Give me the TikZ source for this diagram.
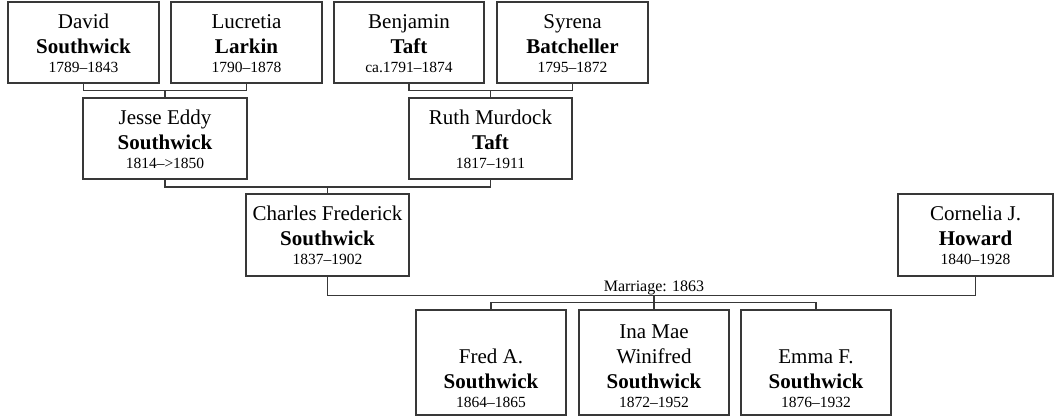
\documentclass[tikz,border=0pt]{standalone}
\usepackage{fontspec}
\setmainfont{Liberation Serif}
\newcommand\yrs[1]{\\[-6pt]{\fontsize{15.5}{19}\selectfont #1}}
\begin{document}
\begin{tikzpicture}[x=1pt,y=-1pt,
  person/.style={draw=black!78, line width=1.5pt, align=center, inner sep=0pt,
    font=\fontsize{21}{25}\selectfont, minimum height=81pt,
    text height=60.5pt, text depth=0pt},
  kid/.style={person, minimum width=150pt, minimum height=105pt,
    text height=89pt},
  link/.style={draw=black!78, line width=1.5pt},
  marrlabel/.style={font=\fontsize{16}{19}\selectfont, anchor=base, inner sep=0pt}]
\useasboundingbox (0,0) rectangle (1064,416);
% generation 1
\node[person, minimum width=151pt] (david) at (83.5,42.5) {David\\\textbf{Southwick}\yrs{1789--1843}};
\node[person, minimum width=151pt] (lucretia) at (246.5,42.5) {Lucretia\\\textbf{Larkin}\yrs{1790--1878}};
\node[person, minimum width=150pt] (benjamin) at (409,42.5) {Benjamin\\\textbf{Taft}\yrs{ca.1791--1874}};
\node[person, minimum width=151pt] (syrena) at (572.5,42.5) {Syrena\\\textbf{Batcheller}\yrs{1795--1872}};
% generation 2
\node[person, minimum width=164pt] (jesse) at (165,138.5) {Jesse Eddy\\\textbf{Southwick}\yrs{1814-->1850}};
\node[person, minimum width=163pt] (ruth) at (490.5,138.5) {Ruth Murdock\\\textbf{Taft}\yrs{1817--1911}};
% generation 3
\node[person, minimum width=163pt, minimum height=82pt, text height=59pt] (charles) at (327.5,235) {Charles Frederick\\\textbf{Southwick}\yrs{1837--1902}};
\node[person, minimum width=155pt, minimum height=82pt, text height=59pt] (cornelia) at (975.5,235) {Cornelia J.\\\textbf{Howard}\yrs{1840--1928}};
% children
\node[kid] (fred) at (491,362.5) {Fred A.\\\textbf{Southwick}\yrs{1864--1865}};
\node[kid] (ina) at (654,362.5) {Ina Mae\\Winifred\\\textbf{Southwick}\yrs{1872--1952}};
\node[kid] (emma) at (816,362.5) {Emma F.\\\textbf{Southwick}\yrs{1876--1932}};
% connectors
\coordinate (j1) at (165,90.5);
\draw[link] (david.south) |- (j1) -| (lucretia.south);
\draw[link] (j1) -- (jesse.north);
\coordinate (j2) at (490.5,90.5);
\draw[link] (benjamin.south) |- (j2) -| (syrena.south);
\draw[link] (j2) -- (ruth.north);
\coordinate (j3) at (327.5,187);
\draw[link] (jesse.south) |- (j3) -| (ruth.south);
\draw[link] (j3) -- (charles.north);
\coordinate (j4) at (654,295.5);
\draw[link] (charles.south) |- (j4) -| (cornelia.south);
\node[marrlabel] (marr) at (654,291) {Marriage: 1863};
\coordinate (j5) at (654,302.5);
\draw[link] (j4) -- (j5);
\draw[link] (fred.north) |- (j5) -| (emma.north);
\draw[link] (j5) -- (ina.north);
\end{tikzpicture}
\end{document}
